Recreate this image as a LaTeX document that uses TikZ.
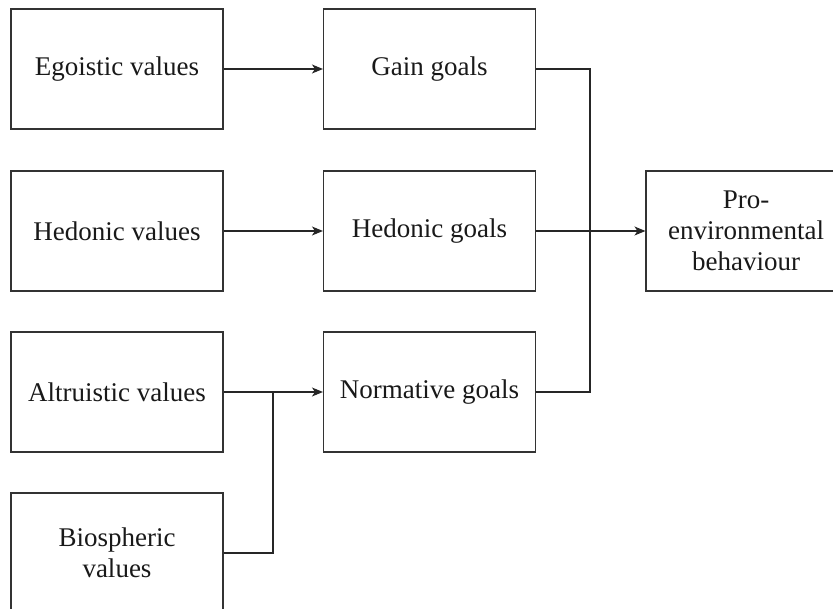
\documentclass[tikz,border=0pt]{standalone}
\usepackage{fontspec}
\setmainfont{Liberation Serif}
\usetikzlibrary{arrows.meta}
\begin{document}
\begin{tikzpicture}[x=1pt,y=-1pt,
  box/.style={draw=black!80,line width=1.1pt,minimum width=212pt,minimum height=120pt,
    inner sep=0pt,align=center,font=\fontsize{27}{31}\selectfont,text=black!90},
  link/.style={draw=black!85,line width=1.1pt},
  arr/.style={link,-{Stealth[length=11pt,width=9pt,inset=3pt]}}]
\useasboundingbox (0,0) rectangle (833,609);
% value boxes
\node[box] (ego) at (117,69) {Egoistic values};
\node[box] (hedv) at (117,231) {Hedonic values};
\node[box] (alt) at (117,392) {Altruistic values};
\node[box] (bio) at (117,553) {Biospheric\\values};
% goal boxes
\node[box] (gain) at (429.5,69) {Gain goals};
\node[box] (hedg) at (429.5,231) {Hedonic goals};
\node[box] (norm) at (429.5,392) {Normative goals};
% outcome
\node[box,minimum width=200pt] (peb) at (746,231) {Pro-\\environmental\\behaviour};
% connectors
\coordinate (jn) at (273,392);
\coordinate (jg) at (590,69);
\coordinate (jb) at (590,392);
\draw[arr] (ego) -- (gain);
\draw[arr] (hedv) -- (hedg);
\draw[arr] (alt) -- (norm);
\draw[link] (bio.east) -| (jn);
\draw[link] (gain.east) -- (jg) -- (jb) -- (norm.east);
\draw[arr] (hedg) -- (peb);
\end{tikzpicture}
\end{document}
